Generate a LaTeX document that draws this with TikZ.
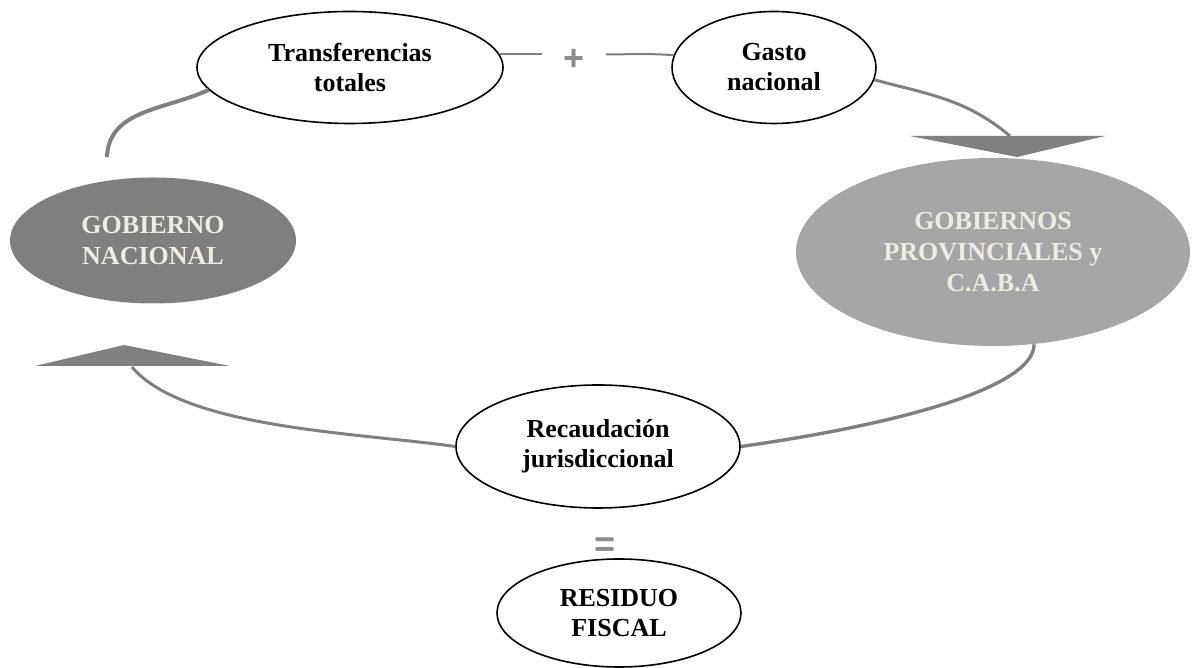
\documentclass[tikz,border=0pt]{standalone}
\usepackage{fontspec}
\setmainfont{Liberation Serif}
\newfontfamily\signfont{Liberation Sans}
\usetikzlibrary{shapes.geometric}

\definecolor{linegray}{HTML}{808080}
\definecolor{darkfill}{HTML}{7F7F7F}
\definecolor{lightfill}{HTML}{A6A6A6}
\definecolor{paper}{HTML}{EEECE1}
\definecolor{signgray}{HTML}{8C8C8C}

\begin{document}
\begin{tikzpicture}[x=0.5pt, y=0.5pt,
        box/.style={ellipse, draw=black, line width=0.8pt, fill=white, align=center, inner sep=0pt,
            font=\fontsize{13}{15}\selectfont\bfseries},
        govbox/.style={ellipse, align=center, inner sep=0pt, text=paper,
            font=\fontsize{13}{15.5}\selectfont\bfseries},
        flow/.style={draw=linegray, line width=1.5pt},
        sign/.style={text=signgray, inner sep=0pt, font=\signfont\bfseries\fontsize{18}{18}\selectfont}]

            \useasboundingbox (0,0) rectangle (1194,668);

            % Draw the two governments
            \node[govbox, fill=darkfill, minimum width=143pt, minimum height=63pt] (gn) at (153,427.5) {GOBIERNO\\NACIONAL};
            \node[govbox, fill=lightfill, minimum width=197pt, minimum height=94pt] (gp) at (993,416) {GOBIERNOS\\PROVINCIALES y\\C.A.B.A};

            % Draw the ellipses on the cycle
            \node[box, minimum width=153pt, minimum height=56pt] (tr) at (350,600.5) {Transferencias\\totales};
            \node[box, minimum width=102pt, minimum height=56pt] (gs) at (774,600.5) {Gasto\\nacional};
            \node[box, minimum width=142pt, minimum height=61.5pt] (rj) at (598,221.5) {Recaudación\\jurisdiccional};
            \node[box, minimum width=122pt, minimum height=54pt] (rs) at (619,55) {RESIDUO\\FISCAL};

            % Draw the signs
            \node[sign, minimum width=31.5pt] (plus) at (574,608) {+};
            \node[sign] (eq) at (605,121) {=};

            % Draw the ends of the cycle
            \coordinate (gnTop) at (107,511);
            \coordinate (arrR) at (1010,532);
            \coordinate (tipR) at (1017,511);
            \coordinate (arrL) at (132,301);
            \coordinate (tipL) at (124,323);

            % Draw the arrowheads
            \fill[linegray] (tipR) -- (910,532) -- (1105,532) -- cycle;
            \fill[linegray] (tipL) -- (35,302) -- (230,302) -- cycle;

            % Draw the connectors round the cycle
            \draw[flow, line width=2pt] (gnTop) to[out=88, in=205] (tr.189);
            \draw[flow, line width=1pt] (tr.5) -- (tr.5 -| plus.west);
            \draw[flow, line width=1pt] (tr.5 -| plus.east) to[out=0, in=176] (gs.173);
            \draw[flow] (gs.-7) to[out=-15, in=140] (arrR);
            \draw[flow, line width=1.7pt] (gp.-66) to[out=-90, in=8, out distance=21.5pt, in distance=80pt] (rj.east);
            \draw[flow] (rj.west) to[out=172, in=-50, out distance=50pt, in distance=40pt] (arrL);

\end{tikzpicture}
\end{document}
